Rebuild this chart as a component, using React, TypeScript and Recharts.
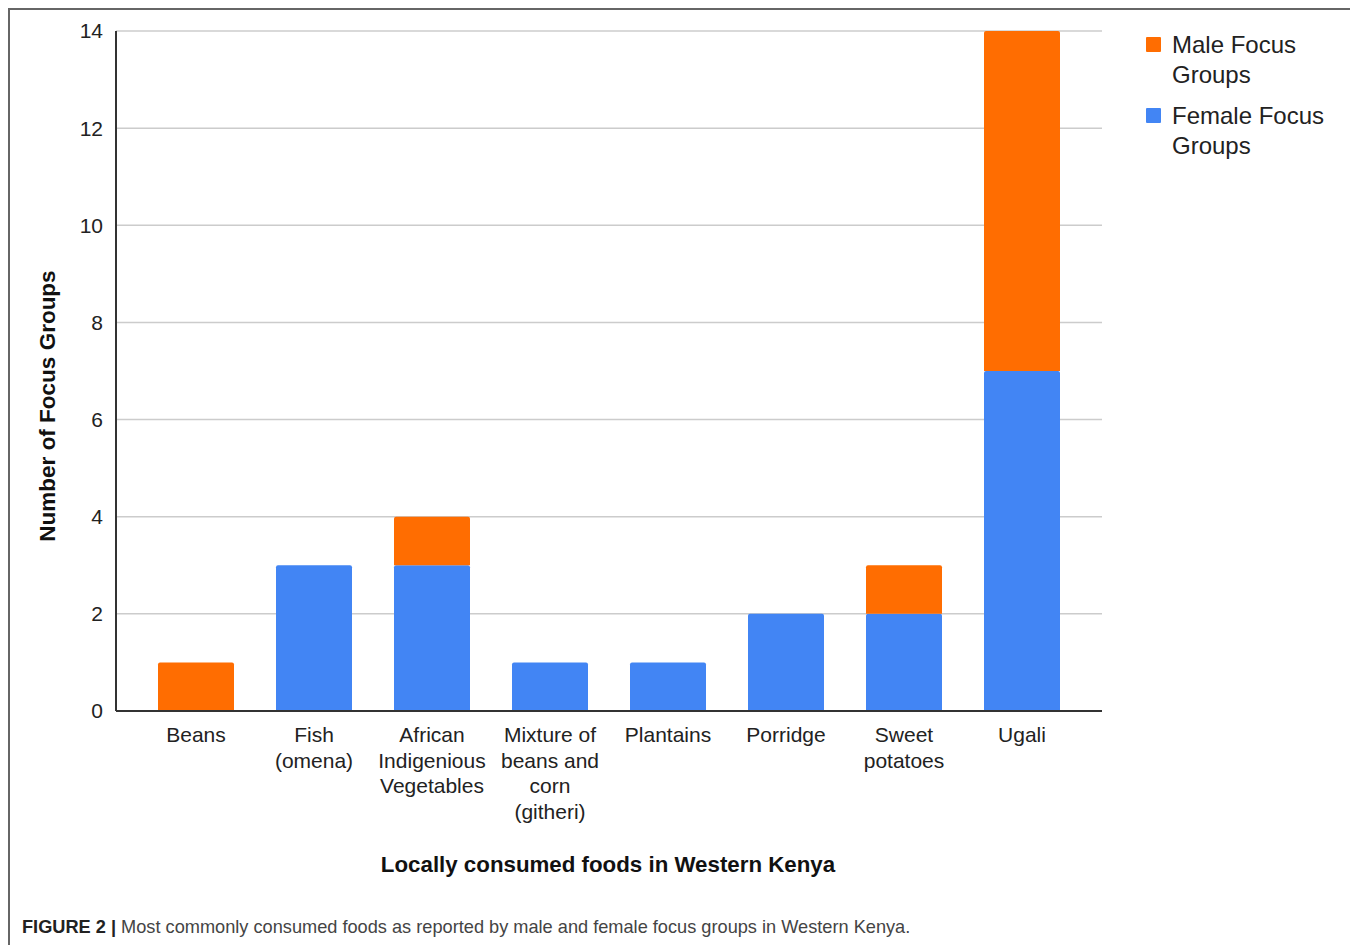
import React from "react";
import { BarChart, Bar, XAxis, YAxis, CartesianGrid } from "recharts";

const categories = [
  "Beans",
  "Fish\n(omena)",
  "African\nIndigenious\nVegetables",
  "Mixture of\nbeans and\ncorn\n(githeri)",
  "Plantains",
  "Porridge",
  "Sweet\npotatoes",
  "Ugali",
];
const femaleValues = [0, 3, 3, 1, 1, 2, 2, 7];
const maleValues = [1, 0, 1, 0, 0, 0, 1, 7];
const yTicks = [0, 2, 4, 6, 8, 10, 12, 14];
const legendItems = [
  { label: ["Male Focus", "Groups"], key: "male" },
  { label: ["Female Focus", "Groups"], key: "female" },
];

const data = categories.map((c, i) => ({
  name: c,
  female: femaleValues[i],
  male: maleValues[i],
}));

const FONT = "'Liberation Sans', Arial, sans-serif";
const ORANGE = "#ff6d01";
const BLUE = "#4285f4";
const colorOf: Record<string, string> = { male: ORANGE, female: BLUE };

const XTick = (props: any) => {
  const { x, y, payload } = props;
  const lines = String(payload.value).split("\n");
  return (
    <text x={x} y={y} textAnchor="middle" fill="#222" fontSize={21} fontFamily={FONT}>
      {lines.map((l: string, i: number) => (
        <tspan key={i} x={x} dy={i === 0 ? 31 : 25.5}>
          {l}
        </tspan>
      ))}
    </text>
  );
};

const LegendBlock = () => (
  <div style={{ position: "absolute", left: 1138, top: 22, fontFamily: FONT }}>
    {legendItems.map((it, i) => (
      <div key={i} style={{ position: "relative", height: 71 }}>
        <div
          style={{
            position: "absolute",
            left: 0,
            top: 7,
            width: 15,
            height: 15,
            background: colorOf[it.key],
            borderRadius: 1,
          }}
        />
        <div
          style={{
            position: "absolute",
            left: 26,
            top: 0,
            fontSize: 24,
            lineHeight: "30px",
            color: "#222",
            whiteSpace: "nowrap",
          }}
        >
          {it.label.map((l, j) => (
            <div key={j}>{l}</div>
          ))}
        </div>
      </div>
    ))}
  </div>
);

export default function App() {
  return (
    <div style={{ position: "relative", width: 1348, height: 937, fontFamily: FONT }}>
      <div
        style={{
          position: "absolute",
          left: 0,
          top: 0,
          width: 1348,
          height: 960,
          border: "2px solid #666",
          boxSizing: "border-box",
        }}
      />
      <div style={{ position: "absolute", left: 0, top: 0 }}>
        <BarChart
          width={1348}
          height={937}
          data={data}
          margin={{ top: 23, right: 254, bottom: 84, left: 48 }}
          barSize={76}
        >
          <CartesianGrid vertical={false} stroke="#cccccc" strokeWidth={1.5} />
          <XAxis
            dataKey="name"
            interval={0}
            padding={{ left: 21, right: 21 }}
            axisLine={{ stroke: "#333", strokeWidth: 2 }}
            tickLine={false}
            tickSize={0}
            tickMargin={0}
            height={150}
            tick={<XTick />}
          />
          <YAxis
            width={60}
            domain={[0, 14]}
            ticks={yTicks}
            axisLine={{ stroke: "#333", strokeWidth: 2 }}
            tickLine={false}
            tickSize={8}
            tickMargin={5}
            tick={{ fill: "#222", fontSize: 21, fontFamily: FONT }}
          />
          <Bar dataKey="female" stackId="a" fill={BLUE} isAnimationActive={false} radius={[2, 2, 0, 0]} />
          <Bar dataKey="male" stackId="a" fill={ORANGE} isAnimationActive={false} radius={[2, 2, 0, 0]} />
        </BarChart>
      </div>
      <LegendBlock />
      <div
        style={{
          position: "absolute",
          left: 40,
          top: 398,
          transform: "translate(-50%, -50%) rotate(-90deg)",
          fontSize: 22.5,
          fontWeight: "bold",
          color: "#111",
          whiteSpace: "nowrap",
        }}
      >
        Number of Focus Groups
      </div>
      <div
        style={{
          position: "absolute",
          left: 600,
          top: 857,
          transform: "translate(-50%, -50%)",
          fontSize: 22.3,
          fontWeight: "bold",
          color: "#111",
          whiteSpace: "nowrap",
        }}
      >
        Locally consumed foods in Western Kenya
      </div>
      <div
        style={{
          position: "absolute",
          left: 14,
          top: 909,
          fontSize: 18.2,
          color: "#444",
          whiteSpace: "nowrap",
        }}
      >
        <span style={{ fontWeight: "bold", color: "#222" }}>FIGURE 2 |</span> Most commonly consumed
        foods as reported by male and female focus groups in Western Kenya.
      </div>
    </div>
  );
}
